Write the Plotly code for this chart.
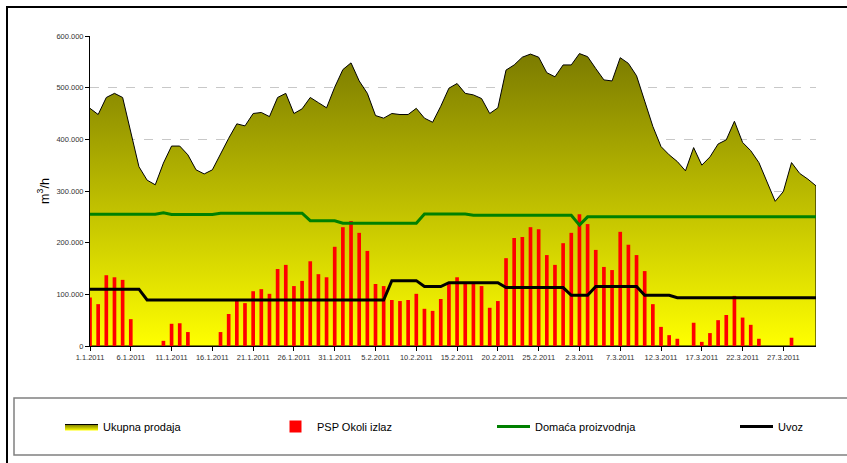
import plotly.graph_objects as go
import pandas as pd

# Categories: daily dates 1.1.2011 - 31.3.2011
dates = [d.strftime("%Y-%m-%d") for d in pd.date_range("2011-01-01", "2011-03-31", freq="D")]
tick_dates = dates[::5]
tick_labels = ["1.1.2011", "6.1.2011", "11.1.2011", "16.1.2011", "21.1.2011", "26.1.2011",
               "31.1.2011", "5.2.2011", "10.2.2011", "15.2.2011", "20.2.2011", "25.2.2011",
               "2.3.2011", "7.3.2011", "12.3.2011", "17.3.2011", "22.3.2011", "27.3.2011"]

# Series values (m3/h)
ukupna_prodaja = [460000, 448000, 481000, 489000, 481000, 415000, 347000, 321000, 312000, 354000,
                  387000, 387000, 370000, 341000, 333000, 341000, 373000, 402000, 430000, 426000,
                  450000, 452000, 444000, 481000, 489000, 450000, 459000, 481000, 471000, 461000,
                  501000, 535000, 548000, 513000, 489000, 446000, 441000, 450000, 448000, 448000,
                  460000, 441000, 433000, 464000, 499000, 508000, 489000, 486000, 479000, 450000,
                  461000, 534000, 544000, 559000, 565000, 559000, 529000, 521000, 544000, 544000,
                  566000, 560000, 537000, 515000, 513000, 558000, 547000, 523000, 474000, 425000,
                  386000, 370000, 357000, 339000, 384000, 350000, 366000, 391000, 399000, 435000,
                  394000, 378000, 355000, 318000, 280000, 299000, 355000, 334000, 323000, 310000]

psp_okoli_izlaz = [94000, 81000, 137000, 133000, 128000, 52000, 0, 0, 0, 10000,
                   43000, 44000, 27000, 0, 0, 0, 27000, 62000, 89000, 83000,
                   106000, 110000, 101000, 149000, 157000, 116000, 126000, 164000, 139000, 133000,
                   192000, 230000, 242000, 219000, 184000, 120000, 116000, 89000, 87000, 89000,
                   101000, 72000, 68000, 91000, 120000, 133000, 122000, 122000, 116000, 74000,
                   87000, 170000, 209000, 211000, 230000, 226000, 176000, 157000, 199000, 219000,
                   255000, 236000, 186000, 153000, 147000, 221000, 196000, 176000, 145000, 81000,
                   37000, 21000, 14000, 0, 45000, 8000, 25000, 50000, 60000, 97000,
                   55000, 41000, 14000, 0, 0, 0, 16000, 0, 0, 0]

domaca_proizvodnja = ([255000] * 9 + [258000] + [254500] * 6 + [257000] * 11 + [242500] * 4 +
                      [237500] * 10 + [255500] * 6 + [253000] * 13 + [234000] + [250000] * 29)

uvoz = ([110000] * 7 + [89000] * 30 + [126500] * 4 + [115000] * 3 + [122500] * 7 +
        [113000] * 8 + [98000] * 3 + [115000] * 6 + [98000] * 4 + [93500] * 18)

FONT = "Liberation Sans, Arial, sans-serif"

W, H = 847, 463
L, R, T, B = 90, 31, 36, 117
pw, ph = W - L - R, H - T - B


def px_x(x):
    return (x - L) / pw


def px_y(y):
    return (H - B - y) / ph


fig = go.Figure()

# Area (closed polygon so the outline drops to the axis at both ends)
fig.add_trace(go.Scatter(
    x=dates + [dates[-1], dates[0]],
    y=ukupna_prodaja + [0, 0],
    mode="lines", fill="toself",
    line=dict(color="black", width=1),
    fillgradient=dict(type="vertical", colorscale=[[0, "#ffff00"], [1, "#7a7a00"]],
                      start=0, stop=570000),
    name="Ukupna prodaja", hoverinfo="skip", legend="legend",
))

fig.add_trace(go.Bar(
    x=dates, y=psp_okoli_izlaz, name="PSP Okoli izlaz",
    marker=dict(color="#ff0000", line=dict(width=0)),
    xaxis="x2", yaxis="y2", legend="legend2",
))

fig.add_trace(go.Scatter(
    x=dates, y=domaca_proizvodnja, mode="lines", name="Domaća proizvodnja",
    line=dict(color="#008000", width=3), xaxis="x2", yaxis="y2", legend="legend3",
))

fig.add_trace(go.Scatter(
    x=dates, y=uvoz, mode="lines", name="Uvoz",
    line=dict(color="#000000", width=3), xaxis="x2", yaxis="y2", legend="legend4",
))


def legend_at(px):
    return dict(
        orientation="h", x=px_x(px), y=px_y(426.5), xanchor="left", yanchor="middle",
        itemwidth=33, font=dict(size=11, family=FONT, color="#000"),
        bgcolor="rgba(0,0,0,0)", borderwidth=0,
    )


fig.update_layout(
    width=W, height=H,
    margin=dict(l=L, r=R, t=T, b=B, autoexpand=False),
    paper_bgcolor="white", plot_bgcolor="white",
    separators=",.",
    bargap=0.55,
    font=dict(family=FONT, color="#000"),
    xaxis=dict(
        type="date", range=[dates[0], dates[-1]],
        tickvals=tick_dates, ticktext=tick_labels,
        ticks="outside", ticklen=4, tickcolor="black", tickwidth=1,
        showline=True, linecolor="black", linewidth=1,
        showgrid=False, zeroline=False, automargin=False,
        tickfont=dict(size=7.5, color="#333", family=FONT),
    ),
    yaxis=dict(
        range=[0, 600000], dtick=100000, tickformat=",.0f",
        ticks="outside", ticklen=4, tickcolor="black", tickwidth=1,
        showline=True, linecolor="black", linewidth=1,
        showgrid=True, gridcolor="#c8c8c8", griddash="dash", gridwidth=1,
        zeroline=False, automargin=False,
        tickfont=dict(size=7.5, color="#333", family=FONT),
        title=dict(text="m<sup>3</sup>/h", font=dict(size=12.5, family=FONT), standoff=4),
    ),
    xaxis2=dict(overlaying="x", matches="x", visible=False),
    yaxis2=dict(overlaying="y", matches="y", visible=False),
    showlegend=True,
    legend=legend_at(60),
    legend2=legend_at(274),
    legend3=legend_at(492),
    legend4=legend_at(735),
    shapes=[
        dict(type="rect", xref="paper", yref="paper",
             x0=px_x(7), x1=px_x(870), y0=px_y(480), y1=px_y(7),
             line=dict(color="black", width=2), fillcolor="rgba(0,0,0,0)", layer="above"),
        dict(type="rect", xref="paper", yref="paper",
             x0=px_x(14), x1=px_x(870), y0=px_y(455), y1=px_y(398),
             line=dict(color="#808080", width=1.5), fillcolor="rgba(0,0,0,0)", layer="above"),
    ],
)

fig.write_html(
    "out.html",
    config={"displayModeBar": False},
    post_script="document.body.style.margin='0';document.body.style.overflow='hidden';",
)
